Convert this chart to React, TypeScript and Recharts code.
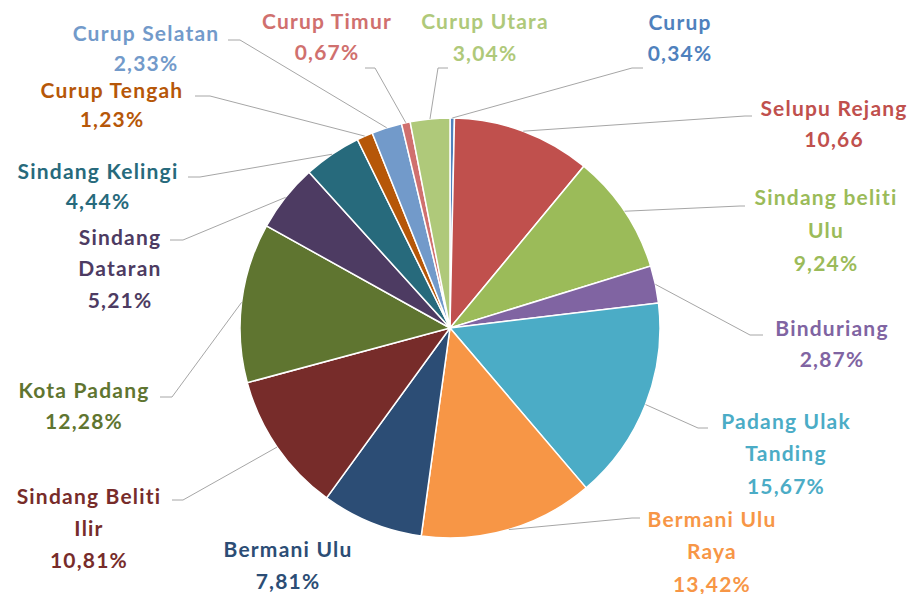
import { PieChart, Pie, Cell } from "recharts";

const districts = [
  "Curup",
  "Selupu Rejang",
  "Sindang beliti Ulu",
  "Binduriang",
  "Padang Ulak Tanding",
  "Bermani Ulu Raya",
  "Bermani Ulu",
  "Sindang Beliti Ilir",
  "Kota Padang",
  "Sindang Dataran",
  "Sindang Kelingi",
  "Curup Tengah",
  "Curup Selatan",
  "Curup Timur",
  "Curup Utara",
];
const shares = [0.34, 10.66, 9.24, 2.87, 15.67, 13.42, 7.81, 10.81, 12.28, 5.21, 4.44, 1.23, 2.33, 0.67, 3.04];
const shareLabels = [
  "0,34%", "10,66", "9,24%", "2,87%", "15,67%", "13,42%", "7,81%", "10,81%",
  "12,28%", "5,21%", "4,44%", "1,23%", "2,33%", "0,67%", "3,04%",
];
const nameLines = [
  ["Curup"],
  ["Selupu Rejang"],
  ["Sindang beliti", "Ulu"],
  ["Binduriang"],
  ["Padang Ulak", "Tanding"],
  ["Bermani Ulu", "Raya"],
  ["Bermani Ulu"],
  ["Sindang Beliti", "Ilir"],
  ["Kota Padang"],
  ["Sindang", "Dataran"],
  ["Sindang Kelingi"],
  ["Curup Tengah"],
  ["Curup Selatan"],
  ["Curup Timur"],
  ["Curup Utara"],
];
const colors = [
  "#4F81BD", "#C0504D", "#9BBB59", "#8064A2", "#4BACC6", "#F79646", "#2C4D75", "#772C2A",
  "#5F7530", "#4D3B62", "#276A7C", "#B65708", "#729ACA", "#D0706E", "#AFC97A",
];

// where each label sits: text centre x, first line y, line gap, leader elbow (ex, ey) and end of its short tail (hx)
const labelLayout = [
  { x: 680, y: 21, gap: 31, ex: 632, ey: 68, hx: 643 },
  { x: 834, y: 107, gap: 31, ex: 745, ey: 116, hx: 752 },
  { x: 826, y: 196, gap: 33, ex: 740, ey: 206, hx: 745 },
  { x: 832, y: 327, gap: 31, ex: 750, ey: 335, hx: 763 },
  { x: 786, y: 420, gap: 32.5, ex: 698, ey: 428, hx: 708 },
  { x: 712, y: 518, gap: 32.5, ex: 632, ey: 518, hx: 640 },
  { x: 288, y: 548, gap: 32, ex: 0, ey: 0, hx: 0 },
  { x: 89, y: 495, gap: 32, ex: 183, ey: 500, hx: 172 },
  { x: 84, y: 389, gap: 31, ex: 172, ey: 397, hx: 160 },
  { x: 120, y: 236, gap: 31.5, ex: 183, ey: 240, hx: 170 },
  { x: 98, y: 170, gap: 30, ex: 200, ey: 177, hx: 188 },
  { x: 112, y: 89, gap: 29.5, ex: 210, ey: 96, hx: 195 },
  { x: 146, y: 32, gap: 30, ex: 240, ey: 40, hx: 228 },
  { x: 327, y: 20, gap: 31, ex: 375, ey: 68, hx: 365 },
  { x: 485, y: 20, gap: 32, ex: 438, ey: 68, hx: 448 },
];

const data = districts.map((name, i) => ({ name, value: shares[i] }));

const RAD = Math.PI / 180;

function renderLabel(props: any) {
  const { cx, cy, midAngle, outerRadius, index } = props;
  const lay = labelLayout[index];
  const lines = [...nameLines[index], shareLabels[index]];
  const sx = cx + outerRadius * Math.cos(-midAngle * RAD);
  const sy = cy + outerRadius * Math.sin(-midAngle * RAD);
  return (
    <g key={`lbl-${index}`}>
      {lay.hx > 0 && (
        <polyline
          points={`${sx},${sy} ${lay.ex},${lay.ey} ${lay.hx},${lay.ey}`}
          fill="none"
          stroke="#A6A6A6"
          strokeWidth={1}
        />
      )}
      <text
        x={lay.x}
        textAnchor="middle"
        fill={colors[index]}
        fontFamily="Lato, sans-serif"
        fontWeight={700}
        fontSize={21}
        letterSpacing={1.2}
      >
        {lines.map((t, j) => (
          <tspan key={j} x={lay.x} y={lay.y + j * lay.gap} dominantBaseline="central">
            {t}
          </tspan>
        ))}
      </text>
    </g>
  );
}

export default function App() {
  return (
    <div style={{ position: "absolute", left: 0, top: 0, width: 918, height: 594, background: "#fff" }}>
      <PieChart width={918} height={594} margin={{ top: 0, right: 0, bottom: 0, left: 0 }}>
        <Pie
          data={data}
          dataKey="value"
          nameKey="name"
          cx={450}
          cy={328}
          outerRadius={210}
          startAngle={90}
          endAngle={-270}
          label={renderLabel}
          labelLine={false}
          isAnimationActive={false}
        >
          {data.map((d, i) => (
            <Cell key={d.name} fill={colors[i]} stroke="#fff" strokeWidth={1.5} />
          ))}
        </Pie>
      </PieChart>
    </div>
  );
}
